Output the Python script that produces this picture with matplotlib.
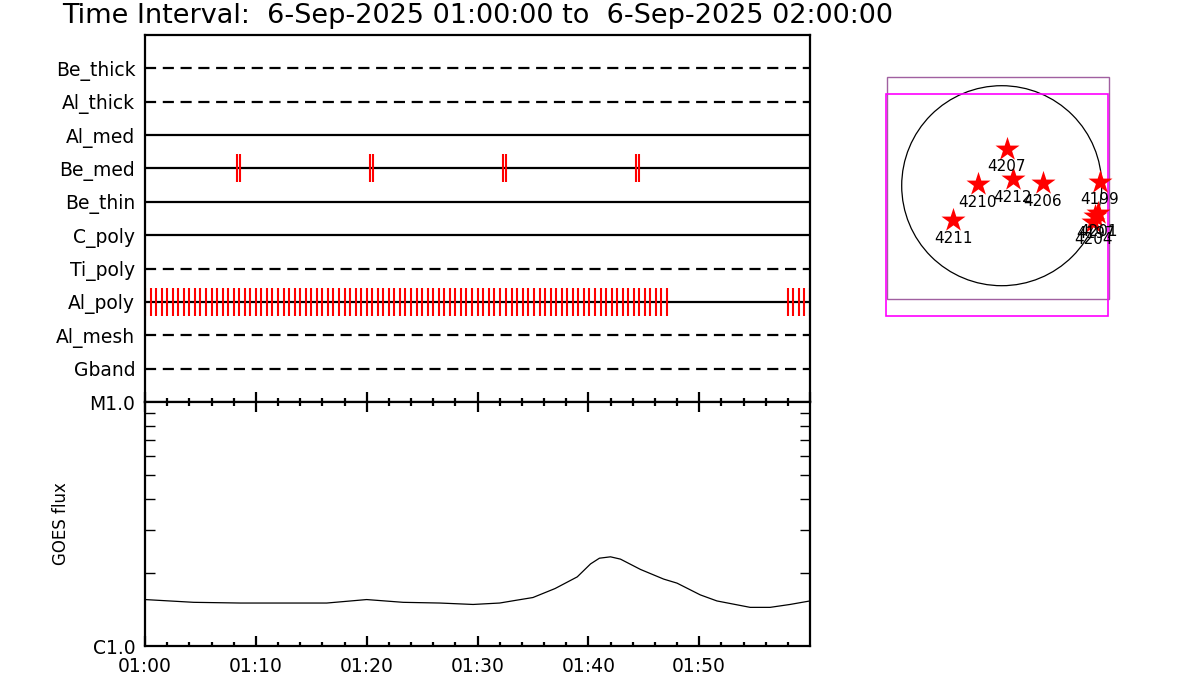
import matplotlib
matplotlib.use("Agg")
import matplotlib.pyplot as plt
from matplotlib.patches import Rectangle, Circle
from matplotlib.ticker import FixedLocator, NullFormatter
import numpy as np

# ---------------- data ----------------
title = "Time Interval:  6-Sep-2025 01:00:00 to  6-Sep-2025 02:00:00"

channels = ["Be_thick", "Al_thick", "Al_med", "Be_med", "Be_thin",
            "C_poly", "Ti_poly", "Al_poly", "Al_mesh", "Gband"]
channel_dashed = [True, True, False, False, False, False, True, False, True, True]

# observation times (minutes after 01:00)
be_med_times = [8.3, 8.6, 20.3, 20.6, 32.3, 32.6, 44.3, 44.6]
al_poly_times = [
    0.0, 0.5, 1.0, 1.5, 2.0, 2.5, 3.0, 3.5, 4.0, 4.5, 5.0, 5.5, 6.0, 6.5,
    7.0, 7.5, 8.0, 8.5, 9.0, 9.5, 10.0, 10.5, 11.0, 11.5, 12.0, 12.5, 13.0,
    13.5, 14.0, 14.5, 15.0, 15.5, 16.0, 16.5, 17.0, 17.5, 18.0, 18.5, 19.0,
    19.5, 20.0, 20.5, 21.0, 21.5, 22.0, 22.5, 23.0, 23.5, 24.0, 24.5, 25.0,
    25.5, 26.0, 26.5, 27.0, 27.5, 28.0, 28.5, 29.0, 29.5, 30.0, 30.5, 31.0,
    31.5, 32.0, 32.6, 33.1, 33.6, 34.1, 34.6, 35.1, 35.6, 36.1, 36.6, 37.1,
    37.6, 38.1, 38.6, 39.1, 39.6, 40.1, 40.6, 41.1, 41.6, 42.1, 42.6, 43.1,
    43.6, 44.1, 44.6, 45.1, 45.6, 46.1, 46.6, 47.1,
    58.0, 58.5, 59.0, 59.5, 60.0]

goes_t = [0.0, 4.4, 8.6, 12.5, 16.4, 20.0, 23.3, 26.6, 29.6, 32.0, 33.5, 35.0,
          37.0, 39.0, 40.2, 41.0, 42.0, 42.9, 44.7, 46.8, 48.0, 50.1, 51.6,
          54.6, 56.4, 58.2, 60.0]
goes_flux = [1.55e-6, 1.51e-6, 1.50e-6, 1.50e-6, 1.50e-6, 1.55e-6, 1.51e-6,
             1.50e-6, 1.48e-6, 1.50e-6, 1.54e-6, 1.58e-6, 1.72e-6, 1.92e-6,
             2.17e-6, 2.29e-6, 2.32e-6, 2.27e-6, 2.06e-6, 1.88e-6, 1.81e-6,
             1.62e-6, 1.53e-6, 1.44e-6, 1.44e-6, 1.48e-6, 1.53e-6]

time_tick_min = [0, 10, 20, 30, 40, 50]
time_tick_labels = ["01:00", "01:10", "01:20", "01:30", "01:40", "01:50"]

# active regions (arcsec)
ar_names = ["4207", "4212", "4210", "4206", "4199", "4211", "4197", "4204", "4201"]
ar_x = [47, 104, -228, 390, 935, -461, 891, 872, 919]
ar_y = [349, 61, 16, 23, 38, -327, -285, -342, -262]
solar_radius = 950

# ---------------- figure ----------------
W, H = 1200, 700
fig = plt.figure(figsize=(12, 7), dpi=100)
plt.rcParams['font.family'] = ['DejaVu Sans']

def fr(x0, y0, x1, y1):
    return [x0 / W, 1 - y1 / H, (x1 - x0) / W, (y1 - y0) / H]

fig.text(62 / W, 1 - 16 / H, title, fontsize=19.5, va='center', ha='left')

lw_axis = 1.6

# top panel
ax1 = fig.add_axes(fr(145, 35, 810, 402))
ax1.set_xlim(0, 60)
ax1.set_ylim(0, 11)
n = len(channels)
for i, (name, dashed) in enumerate(zip(channels, channel_dashed)):
    yv = n - i
    ax1.plot([0, 60], [yv, yv], color='black', lw=1.6,
             linestyle=(0, (5, 3)) if dashed else '-', solid_capstyle='butt')
be_y = n - channels.index("Be_med")
al_y = n - channels.index("Al_poly")
ax1.vlines(be_med_times, be_y - 0.42, be_y + 0.42, color='red', lw=1.5)
ax1.vlines(al_poly_times, al_y - 0.43, al_y + 0.43, color='red', lw=1.5)
ax1.set_yticks([n - i for i in range(n)])
ax1.set_yticklabels(channels, fontsize=13.5)
ax1.tick_params(axis='y', length=0, pad=7)
ax1.set_xticks([t for t in range(2, 60, 2)], minor=True)
ax1.set_xticks(time_tick_min + [60])
ax1.xaxis.set_major_formatter(NullFormatter())
ax1.tick_params(axis='x', which='major', direction='in', length=7, width=1.6)
ax1.tick_params(axis='x', which='minor', direction='in', length=3, width=1.6)
for s in ax1.spines.values():
    s.set_linewidth(lw_axis)

# GOES panel
ax2 = fig.add_axes(fr(145, 402, 810, 646))
ax2.plot(goes_t, goes_flux, color='black', lw=0.9)
ax2.set_yscale('log')
ax2.set_ylim(1e-6, 1e-5)
ax2.set_xlim(0, 60)
ax2.yaxis.set_major_locator(FixedLocator([1e-6, 1e-5]))
ax2.set_yticks([1e-6, 1e-5])
ax2.set_yticklabels(["C1.0", "M1.0"], fontsize=13.5)
ax2.yaxis.set_minor_locator(FixedLocator([k * 1e-6 for k in range(2, 10)]))
ax2.yaxis.set_minor_formatter(NullFormatter())
ax2.tick_params(axis='y', which='major', direction='in', length=0, pad=7,
                left=True, right=True)
ax2.tick_params(axis='y', which='minor', direction='in', length=7, width=1.0,
                left=True, right=True)
ax2.set_xticks(time_tick_min)
ax2.set_xticklabels(time_tick_labels, fontsize=13.5)
ax2.set_xticks([t for t in range(2, 60, 2)], minor=True)
ax2.tick_params(axis='x', which='major', direction='in', length=7, width=1.6,
                top=True, pad=8)
ax2.tick_params(axis='x', which='minor', direction='in', length=3, width=1.6,
                top=True)
ax2.set_ylabel("GOES flux", fontsize=12, labelpad=14)
for s in ax2.spines.values():
    s.set_linewidth(lw_axis)

# solar map
mx0, my0, mx1, my1 = 860, 60, 1130, 330
cx, cy, scale = 1001.7, 185.7, 9.5
ax3 = fig.add_axes(fr(mx0, my0, mx1, my1))
ax3.set_xlim((mx0 - cx) * scale, (mx1 - cx) * scale)
ax3.set_ylim((cy - my1) * scale, (cy - my0) * scale)
ax3.set_axis_off()
ax3.add_patch(Circle((0, 0), solar_radius, fill=False, color='black', lw=0.9))
ax3.add_patch(Rectangle((-1087, -1077), 2109, 2109, fill=False,
                        edgecolor='#a060a0', lw=1.0))
ax3.add_patch(Rectangle((-1096, -1239), 2108, 2109, fill=False,
                        edgecolor='magenta', lw=1.2))
ax3.scatter(ar_x, ar_y, marker='*', s=330, color='red', zorder=3, linewidths=0)
for nm, x, y in zip(ar_names, ar_x, ar_y):
    ax3.text(x, y - 100, nm, ha='center', va='top', fontsize=11, zorder=4)

fig.savefig("out.png", dpi=100)
